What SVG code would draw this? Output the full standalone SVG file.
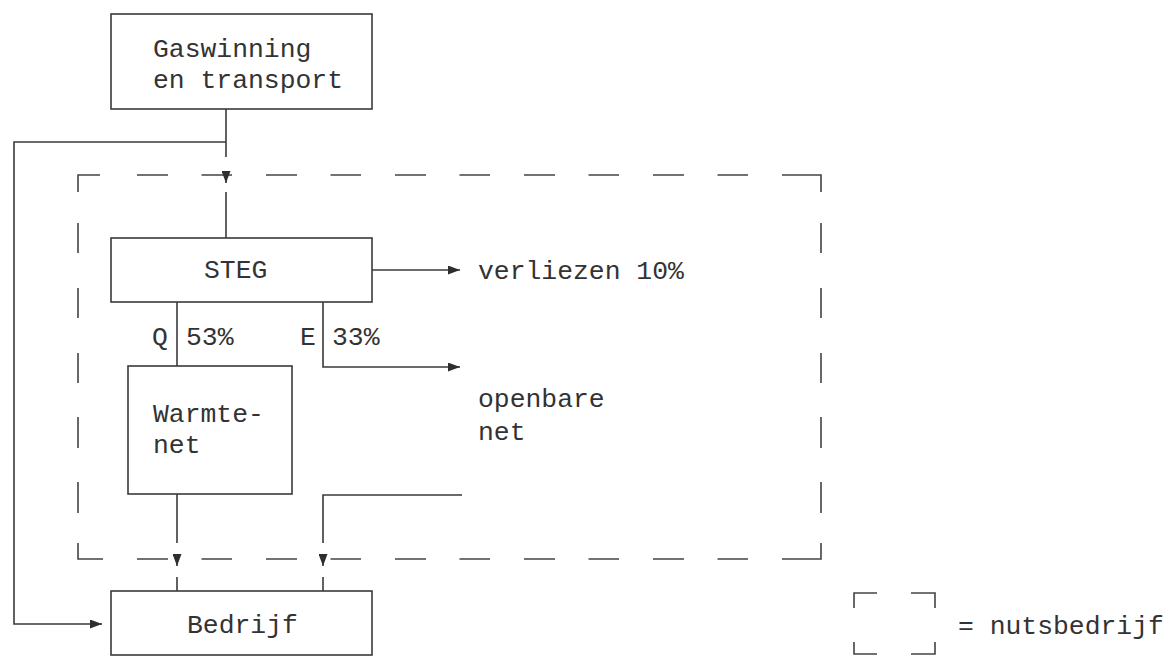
<svg xmlns="http://www.w3.org/2000/svg" width="1172" height="656" viewBox="0 0 1172 656">
<defs>
<style>
.box{fill:#fff;stroke:#3a3a3a;stroke-width:1.6}
.ln{fill:none;stroke:#3a3a3a;stroke-width:1.6}
.dash{fill:none;stroke:#444;stroke-width:1.6}
text{font-family:"Liberation Mono","DejaVu Sans Mono",monospace;font-size:26.4px;fill:#333}
</style>
<marker id="ah" markerUnits="userSpaceOnUse" markerWidth="12" markerHeight="9" refX="12" refY="4.5" orient="auto">
<path d="M0,0 L12,4.5 L0,9 z" fill="#2e2e2e"/>
</marker>
</defs>
<rect width="1172" height="656" fill="#fff"/>

<g id="nutsbedrijf-boundary">
<path class="dash" d="M78,192 V175 H100 M137,175 H168 M201.5,175 H232 M266,175 H297 M330.5,175 H361 M395,175 H426 M459.5,175 H490 M524,175 H555 M588.5,175 H619 M653,175 H684 M717.5,175 H748 M782,175 H821 V192
M821,223 V253 M821,288 V318 M821,353 V383 M821,417 V448 M821,482 V513 M821,543 V559 H782
M748,559 H717.5 M684,559 H653 M619,559 H588.5 M555,559 H524 M490,559 H459.5 M426,559 H395 M361,559 H330.5 M297,559 H266 M232,559 H201.5 M168,559 H137 M103,559 H78 V543
M78,513 V482 M78,448 V417 M78,383 V353 M78,318 V288 M78,253 V223"/>
</g>

<g id="connectors">
<path class="ln" d="M226,109 V157"/>
<path class="ln" d="M226,142 H14 V624 H102" marker-end="url(#ah)"/>
<path class="ln" d="M226,171 V183" marker-end="url(#ah)"/>
<path class="ln" d="M226,192 V238"/>
<path class="ln" d="M372,270 H460" marker-end="url(#ah)"/>
<path class="ln" d="M177,302 V366"/>
<path class="ln" d="M323,302 V367 H460" marker-end="url(#ah)"/>
<path class="ln" d="M177,494 V543"/>
<path class="ln" d="M177,554 V566" marker-end="url(#ah)"/>
<path class="ln" d="M177,577 V591"/>
<path class="ln" d="M462,495 H323 V543"/>
<path class="ln" d="M323,554 V566" marker-end="url(#ah)"/>
<path class="ln" d="M323,577 V591"/>
</g>

<g id="gaswinning">
<rect class="box" x="111" y="14" width="261" height="95"/>
<text x="153" y="57">Gaswinning</text>
<text x="153" y="88">en transport</text>
</g>

<g id="steg">
<rect class="box" x="111" y="238" width="261" height="64"/>
<text x="204" y="278">STEG</text>
</g>

<g id="verliezen">
<text x="478" y="279">verliezen 10%</text>
</g>

<g id="flow-labels">
<text x="152" y="345">Q</text>
<text x="186" y="345">53%</text>
<text x="300" y="345">E</text>
<text x="332" y="345">33%</text>
</g>

<g id="warmtenet">
<rect class="box" x="128" y="366" width="164" height="128"/>
<text x="153" y="422">Warmte-</text>
<text x="153" y="453">net</text>
</g>

<g id="openbare-net">
<text x="478" y="407">openbare</text>
<text x="478" y="440">net</text>
</g>

<g id="bedrijf">
<rect class="box" x="111" y="591" width="261" height="64"/>
<text x="187" y="633">Bedrijf</text>
</g>

<g id="legend">
<path class="dash" d="M854,608 V593 H877 M911,593 H935 V608 M854,642 V654 H877 M911,654 H935 V642"/>
<text x="958" y="634">= nutsbedrijf</text>
</g>
</svg>
